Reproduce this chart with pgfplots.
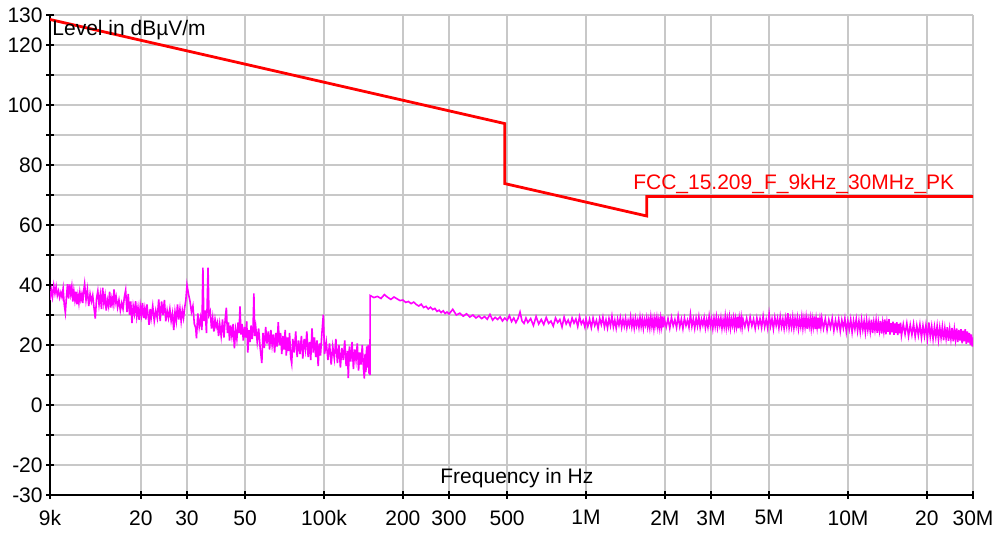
\documentclass[border=0pt]{standalone}
\usepackage{fontspec}
\setmainfont{Liberation Sans}
\usepackage{pgfplots}
\pgfplotsset{compat=1.18}
\definecolor{gridgray}{RGB}{200,200,200}
\definecolor{trace}{RGB}{255,0,255}
\definecolor{limitred}{RGB}{255,0,0}
\begin{document}
\fontsize{10.5}{12.6}\selectfont
\begin{tikzpicture}
\path[use as bounding box] (-25pt,-19.5pt) rectangle (478pt,247.5pt);
\begin{axis}[
 scale only axis, width=461.5pt, height=240pt,
 at={(0,0)}, anchor=south west,
 xmode=log, log basis x=10,
 xmin=9, xmax=30000, ymin=-30, ymax=130,
 axis x line=bottom, axis y line=left,
 axis line style={-, line width=0.9pt, black},
 xtick={9,20,30,50,100,200,300,500,1000,2000,3000,5000,10000,20000,30000},
 xticklabels={9k,20,30,50,100k,200,300,500,1M,2M,3M,5M,10M,20,30M},
 ytick={-30,-20,...,130},
 yticklabels={-30,-20,,0,,20,,40,,60,,80,,100,,120,130},
 minor tick num=0,
 grid=major, major grid style={gridgray, line width=0.8pt},
 tick align=center, major tick length=4pt, tick style={black, line width=0.8pt},
 ticklabel style={font=\fontsize{10.5}{12.6}\selectfont},
 yticklabel style={xshift=2pt},
 xticklabel style={yshift=-2pt},
]
\addplot[trace, line width=0.8pt] coordinates {
(9.0,35.0)(9.1,38.5)(9.2,36.0)(9.3,39.8)(9.4,37.2)(9.5,39.5)(9.6,36.5)(9.7,38.0)(9.8,35.8)(9.9,37.5)
(10.0,36.0)(10.1,38.8)(10.2,33.5)(10.3,30.8)(10.4,36.0)(10.5,40.3)(10.6,35.5)(10.7,40.2)(10.8,37.0)(10.9,39.5)
(11.0,34.5)(11.1,38.0)(11.2,35.0)(11.3,37.8)(11.4,33.6)(11.5,36.5)(11.6,34.0)(11.7,37.5)(11.8,35.2)(11.9,36.8)
(12.0,34.0)(12.1,38.0)(12.2,40.4)(12.35,35.0)(12.5,38.5)(12.65,33.0)(12.8,37.0)(12.95,34.5)(13.1,36.5)(13.25,32.4)
(13.4,28.8)(13.55,35.5)(13.7,38.0)(13.85,33.5)(14.0,36.8)(14.15,32.0)(14.3,39.1)(14.45,34.0)(14.6,36.5)(14.75,31.5)
(14.9,35.0)(15.05,33.0)(15.2,37.8)(15.35,32.5)(15.5,35.5)(15.65,33.5)(15.8,38.5)(15.95,34.0)(16.1,36.0)
(16.3,32.5)(16.5,35.0)(16.7,31.5)(16.9,34.0)(17.1,32.0)(17.3,36.0)(17.5,38.3)(17.7,31.0)(17.9,37.0)(18.1,30.1)
(18.3,34.5)(18.5,27.3)(18.7,33.0)(18.9,30.5)(19.1,34.6)(19.3,29.5)(19.5,32.5)(19.7,28.4)(19.9,33.0)(20.1,30.0)
(20.3,34.0)(20.5,29.0)(20.7,32.0)(20.9,28.5)(21.1,33.5)(21.3,30.0)(21.5,26.7)(21.7,32.0)(21.9,29.0)
(22.2,33.0)(22.5,28.0)(22.8,31.5)(23.1,29.0)(23.4,35.2)(23.7,28.0)(24.0,34.5)(24.3,30.0)(24.6,35.0)(24.9,27.9)
(25.2,31.5)(25.5,29.0)(25.8,32.0)(26.1,28.0)(26.4,30.5)(26.7,25.0)(27.0,31.0)(27.3,28.0)(27.6,33.5)(27.9,28.5)
(28.2,32.0)(28.5,27.9)(28.8,31.5)(29.1,29.0)(29.4,32.5)(29.7,35.0)(30.0,40.0)
(30.4,37.0)(30.8,34.6)(31.2,31.0)(31.6,33.0)(32.0,27.0)(32.4,25.6)(32.6,22.2)(33.0,30.5)(33.4,26.0)(33.8,29.0)
(34.2,25.0)(34.5,45.8)(34.8,28.0)(35.2,31.5)(35.6,24.0)(36.1,45.8)(36.4,30.0)(36.8,31.2)(37.2,25.5)(37.6,29.0)
(38.0,24.5)(38.4,28.5)(38.8,26.0)(39.2,27.5)(39.6,23.0)
(40.0,27.0)(40.5,23.0)(41.0,28.5)(41.5,22.5)(42.0,29.0)(42.4,32.4)(42.8,24.0)(43.2,27.5)(43.6,21.5)(44.0,26.5)
(44.5,23.0)(45.0,27.0)(45.5,18.9)(46.0,25.0)(46.5,22.0)(47.0,27.5)(47.4,24.0)(47.8,32.9)(48.2,23.5)(48.7,27.0)
(49.2,21.5)(49.7,26.0)(50.2,22.5)(50.7,27.9)(51.2,17.5)(51.7,25.0)(52.2,21.0)(52.7,26.5)(53.2,22.0)(53.6,25.5)
(54.0,37.2)(54.4,23.0)(54.9,26.0)
(55.6,21.0)(56.3,25.5)(57.0,19.5)(57.9,14.0)(58.5,24.0)(59.2,19.0)(59.9,26.0)(60.6,20.5)(61.3,24.5)(62.0,18.5)
(62.7,25.0)(63.4,20.0)(64.1,23.5)(64.8,17.5)(65.5,24.0)(66.2,19.5)(66.9,27.6)(67.6,20.0)(68.3,24.0)(69.0,17.0)
(69.7,23.0)(70.4,18.5)(71.1,25.0)(71.8,16.5)(72.5,22.5)(73.2,18.0)(73.9,24.0)(74.6,16.0)(75.3,13.8)
(76,22.0)(77,17.5)(78,24.5)(79,16.0)(80,21.5)(81,17.0)(82,23.0)(83,15.5)(84,22.0)(85,18.5)
(86,24.5)(87,16.0)(88,21.0)(89,15.0)(90,25.5)(91,17.5)(92,22.5)(93,16.0)(94,21.5)(95,13.0)
(96,20.5)(97,16.5)(98,23.0)(99.4,30.1)(100.5,17.0)
(102,21.0)(103.5,15.0)(105,20.5)(106.5,13.5)(108,19.5)(109.5,15.5)(111,22.0)(112.5,14.0)(114,20.0)(115.5,12.5)
(117,19.0)(118.5,15.0)(120,21.5)(121.5,13.0)(123,18.0)(123.8,9.0)(125,19.5)(126.5,14.5)(128,21.0)(129.5,12.0)
(131,18.5)(132.5,15.0)(134,20.5)(135.5,11.5)(137,17.5)(138.5,13.5)(140,20.0)(141.5,12.0)(142.6,8.8)(143.5,17.0)
(144.5,11.0)(145.5,19.5)(146.5,12.5)(147.5,20.0)(148.5,10.5)(149.3,18.0)(149.8,10.0)
(150,36.5)(155,35.8)(160,36.2)(165,35.5)(170,36.8)(175,35.9)(180,35.2)(185,36.0)(190,35.4)(195,34.8)
(200,35.0)(205,34.2)(210,34.5)(215,33.8)(220,34.3)(225,33.5)(230,33.0)(235,33.6)(240,32.5)(245,32.9)
(250,32.0)(255,32.6)(260,31.8)(265,32.2)(270,31.2)(275,31.6)(280,30.8)(285,31.4)(290,30.5)(295,31.0)
(300,30.3)(310,31.9)(320,30.0)(330,30.6)(340,29.6)(350,30.4)(360,29.3)(370,30.0)(380,29.0)(390,29.7)
(400,28.8)(410,29.5)(420,28.6)(430,30.2)(440,28.3)(450,29.2)(460,28.5)(470,29.4)(480,28.0)(490,29.0)
(500,28.2)(510,29.8)(520,27.8)(530,29.0)(540,27.5)(550,28.8)(560,31.0)(570,28.0)(580,27.2)(590,29.0)
(600,27.5)(615,28.8)(630,26.5)(645,29.5)(660,27.0)(675,28.5)(690,26.8)(705,29.2)(720,27.2)(735,28.0)
(750,26.3)(765,29.0)(780,27.5)(795,28.5)(810,26.0)(825,29.3)(840,27.0)(855,28.3)(870,26.5)(885,29.0)
(900,27.3)(915,28.7)(930,26.2)(945,29.5)(960,27.0)(975,28.2)(990,26.0)(1000,28.8)
(1016,26.2)(1032,28.6)(1048,25.8)(1064,29.0)(1080,26.5)(1096,28.2)(1112,25.5)(1128,28.9)(1144,26.8)(1160,29.3)
(1176,26.0)(1192,28.4)(1208,25.7)(1224,28.8)(1240,26.4)(1256,29.6)(1272,26.0)(1288,28.3)(1304,25.6)(1320,28.7)
(1336,26.6)(1352,29.1)(1368,25.9)(1384,28.5)(1400,26.3)(1416,28.9)(1432,25.8)(1448,28.2)(1464,26.5)(1480,29.4)
(1496,26.1)(1512,28.6)(1528,25.7)(1544,28.9)(1560,26.4)(1576,28.3)(1592,25.9)(1608,29.2)(1624,26.2)(1640,28.7)
(1656,25.6)(1672,28.4)(1688,26.7)(1704,29.0)(1720,26.0)(1736,28.5)(1752,25.8)(1768,29.3)(1784,26.3)(1800,28.6)
(1816,25.5)(1832,28.8)(1848,26.6)(1864,29.1)(1880,26.0)(1896,28.4)(1912,25.7)(1928,28.9)(1944,26.2)(1960,29.5)
(1976,25.9)(1992,28.6)
(2024,26.0)(2056,28.8)(2088,25.6)(2120,29.2)(2152,26.4)(2184,28.5)(2216,25.8)(2248,29.7)(2280,26.1)(2312,28.6)
(2344,25.5)(2376,29.0)(2408,26.5)(2440,28.3)(2472,25.9)(2504,30.2)(2536,26.2)(2568,28.7)(2600,25.6)(2632,28.9)
(2664,26.3)(2696,29.4)(2728,25.8)(2760,28.5)(2792,26.6)(2824,29.1)(2856,25.7)(2888,28.4)(2920,26.0)(2952,29.6)
(2984,26.4)(3016,28.7)(3048,25.5)(3080,28.9)(3112,26.2)(3144,29.3)(3176,25.9)(3208,28.6)(3240,26.5)(3272,29.0)
(3304,25.6)(3336,28.4)(3368,26.1)(3400,29.5)(3432,25.8)(3464,28.8)(3496,26.3)(3528,29.2)(3560,25.7)(3592,28.5)
(3624,26.6)(3656,29.0)(3688,25.9)(3720,28.7)(3752,26.2)(3784,29.4)(3816,25.6)(3848,28.9)(3880,26.4)(3912,29.1)
(3944,25.8)(3976,28.6)
(4040,26.1)(4104,28.9)(4168,25.7)(4232,29.3)(4296,26.4)(4360,28.6)(4424,25.5)(4488,29.0)(4552,26.2)(4616,28.8)
(4680,25.8)(4744,29.6)(4808,26.0)(4872,28.5)(4936,25.6)(5000,30.4)(5064,26.3)(5128,28.7)(5192,25.4)(5256,29.2)
(5320,26.5)(5384,28.9)(5448,25.7)(5512,29.4)(5576,26.1)(5640,28.6)(5704,25.5)(5768,29.0)(5832,26.3)(5896,30.6)
(5960,25.8)(6024,28.7)(6088,26.0)(6152,29.3)(6216,25.6)(6280,28.8)(6344,26.4)(6408,29.1)(6472,25.5)(6536,28.5)
(6600,26.2)(6664,29.4)(6728,25.7)(6792,28.9)(6856,26.0)(6920,29.2)(6984,25.4)(7048,28.6)(7112,26.3)(7176,29.0)
(7240,25.6)(7304,28.8)(7368,26.1)(7432,29.5)(7496,25.3)(7560,28.7)(7624,25.9)(7688,29.1)(7752,25.5)(7816,28.6)
(7880,26.0)(7944,29.0)
(8064,25.5)(8192,28.7)(8320,25.0)(8448,28.4)(8576,25.8)(8704,28.9)(8832,24.8)(8960,28.2)(9088,25.4)(9216,28.6)
(9344,24.6)(9472,28.3)(9600,25.6)(9728,28.8)(9856,24.4)(9984,28.0)(10112,25.2)(10240,28.5)(10368,24.3)(10496,28.1)
(10624,25.3)(10752,28.6)(10880,24.7)(11008,28.0)(11136,24.4)(11264,28.4)(11392,25.1)(11520,27.9)(11648,24.2)(11776,28.3)
(11904,25.0)(12032,27.8)(12160,24.5)(12288,28.4)(12416,24.0)(12544,27.7)(12672,25.0)(12800,28.2)(12928,24.1)(13056,27.6)
(13184,24.8)(13312,28.0)(13440,23.8)(13568,27.5)(13696,24.6)(13824,28.5)(13952,23.6)(14080,27.4)(14208,24.4)(14336,28.6)
(14464,23.5)(14592,27.3)(14720,24.2)(14848,27.8)(14976,23.4)(15104,27.2)(15232,24.0)(15360,27.6)(15488,23.3)(15616,27.0)
(15744,23.9)(15872,27.4)(16000,23.2)
(16256,26.9)(16512,23.6)(16768,27.2)(17024,23.0)(17280,26.7)(17536,23.4)(17792,27.0)(18048,22.8)(18304,26.5)(18560,23.2)
(18816,26.8)(19072,22.5)(19328,26.4)(19584,23.0)(19840,26.6)(20096,22.2)(20352,27.5)(20608,22.8)(20864,26.2)(21120,22.0)
(21376,26.0)(21632,22.6)(21888,26.3)(22144,21.8)(22400,25.8)(22656,22.4)(22912,26.0)(23168,21.6)(23424,25.6)(23680,22.2)
(23936,25.9)(24192,21.4)(24448,25.4)(24704,22.0)(24960,25.7)(25216,21.2)(25472,25.2)(25728,21.8)(25984,25.5)(26240,21.0)
(26496,25.0)(26752,21.5)(27008,25.3)(27264,20.6)(27520,24.8)(27776,21.2)(28032,25.3)(28288,20.4)(28544,24.5)(28800,20.8)
(29056,24.0)(29312,20.0)(29568,23.5)(29824,19.5)(30000,22.5)
};
\addplot[limitred, line width=1.4pt] coordinates {
(9,128.5)(490,93.8)(490,73.8)(1705,63.0)(1705,69.5)(30000,69.5)
};
\node[anchor=north west, inner sep=0pt] at ([xshift=1pt,yshift=-2.5pt]rel axis cs:0,1) {Level in dBµV/m};
\node[anchor=base west, inner sep=0pt] at ([xshift=195pt,yshift=5.5pt]rel axis cs:0,0) {Frequency in Hz};
\node[anchor=base west, inner sep=0pt, text=limitred] at (axis cs:1510,71.8) {FCC\_15.209\_F\_9kHz\_30MHz\_PK};
\end{axis}
\end{tikzpicture}
\end{document}
